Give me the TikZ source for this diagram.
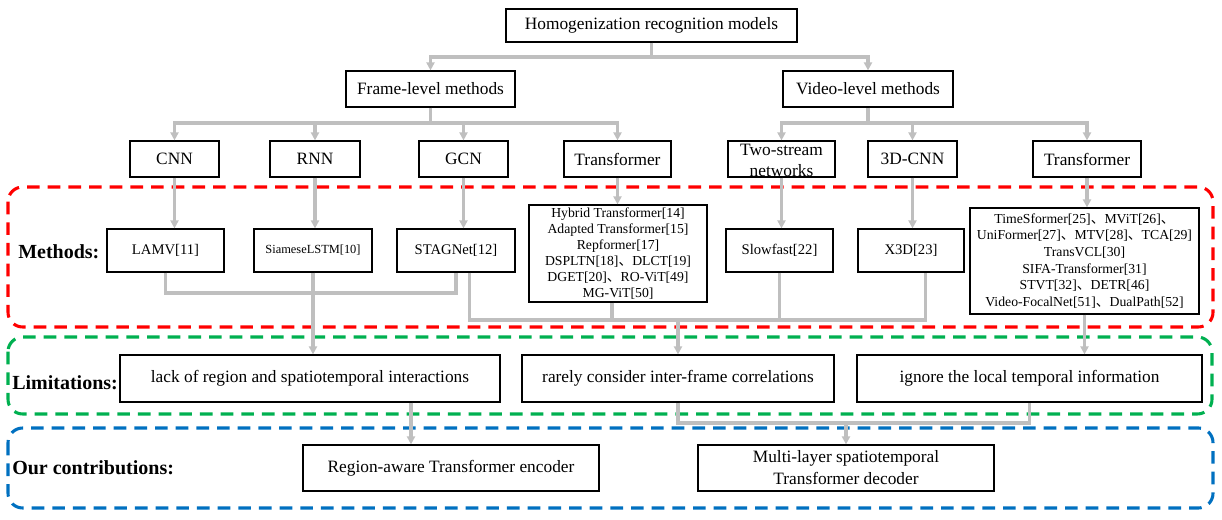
\documentclass[tikz,border=0pt]{standalone}
\usepackage{fontspec}
\setmainfont{Liberation Serif}
\newfontfamily\cjkfont{Noto Sans CJK SC}
\newcommand{\dunhao}{{\cjkfont 、}}
\usetikzlibrary{arrows.meta,calc}
\definecolor{conngray}{RGB}{191,191,191}
\definecolor{regred}{RGB}{255,0,0}
\definecolor{reggreen}{RGB}{0,176,80}
\definecolor{regblue}{RGB}{0,112,192}
\begin{document}
\begin{tikzpicture}[x=0.75pt, y=-0.75pt,
  box/.style={draw, line width=0.9pt, inner sep=0pt, align=center, fill=white},
  sz/.style 2 args={minimum width=#1, minimum height=#2},
  t13/.style={font=\fontsize{13}{15.6}\selectfont},
  t11/.style={font=\fontsize{11}{13}\selectfont},
  t9/.style={font=\fontsize{9.3}{11}\selectfont},
  tl/.style={font=\fontsize{10.3}{12.1}\selectfont},
  tr/.style={font=\fontsize{10.3}{12.5}\selectfont},
  conn/.style={draw=conngray, line width=2.4pt},
  arr/.style={conn, -{Triangle[width=6pt,length=6pt]}},
  lab/.style={anchor=west, inner sep=0pt, font=\fontsize{15}{18}\selectfont\bfseries},
  region/.style={draw=#1, line width=2.3pt, rounded corners=11pt, dash pattern=on 9.5pt off 6pt}
]
\useasboundingbox (0,0) rectangle (1222,520);

% regions
\draw[region=regred] (8,187) rectangle (1213,327);
\draw[region=reggreen] (8,337) rectangle (1212,414);
\draw[region=regblue] (8,428) rectangle (1213,508);

% labels
\node[lab] (lmeth) at (18,252) {Methods:};
\node[lab] (llim) at (12,383) {Limitations:};
\node[lab] (lcon) at (12,468) {Our contributions:};

% level 1, 2
\node[box, t13, sz={218.25pt}{24.75pt}] (top) at (651.5,25.5) {Homogenization recognition models};
\node[box, t13, sz={126.75pt}{27pt}] (frame) at (430.5,89) {Frame-level methods};
\node[box, t13, sz={127.5pt}{27pt}] (video) at (868,89) {Video-level methods};

% level 3
\node[box, t13, sz={66.75pt}{27pt}] (cnn) at (174.5,159) {CNN};
\node[box, t13, sz={67.5pt}{27pt}] (rnn) at (315,159) {RNN};
\node[box, t13, sz={66.75pt}{27pt}] (gcn) at (463.5,159) {GCN};
\node[box, t13, sz={80.25pt}{27pt}] (trf1) at (617.5,159) {Transformer};
\node[box, sz={80.25pt}{27pt}, label={[t13, align=center, inner sep=0pt, yshift=-1pt]center:Two-stream\\networks}] (two) at (781.5,159) {};
\node[box, t13, sz={66.75pt}{27pt}] (c3d) at (912.5,159) {3D-CNN};
\node[box, t13, sz={81pt}{27pt}] (trf2) at (1087,159) {Transformer};

% level 4 (methods)
\node[box, t11, sz={87.75pt}{32.25pt}] (lamv) at (165.5,250.5) {LAMV[11]};
\node[box, t9, sz={88.5pt}{32.25pt}] (siam) at (313,250.5) {SiameseLSTM[10]};
\node[box, t11, sz={88.5pt}{32.25pt}] (stag) at (456,250.5) {STAGNet[12]};
\node[box, tl, sz={133.5pt}{72.75pt}] (tlist) at (618,253.5) {Hybrid Transformer[14]\\Adapted Transformer[15]\\Repformer[17]\\DSPLTN[18]\dunhao DLCT[19]\\DGET[20]\dunhao RO-ViT[49]\\MG-ViT[50]};
\node[box, t11, sz={80.25pt}{32.25pt}] (slow) at (779.5,250.5) {Slowfast[22]};
\node[box, t11, sz={79.5pt}{32.25pt}] (x3d) at (911,250.5) {X3D[23]};
\node[box, tr, sz={171.75pt}{79.5pt}] (rlist) at (1084.5,261) {TimeSformer[25]\dunhao MViT[26]\dunhao\\UniFormer[27]\dunhao MTV[28]\dunhao TCA[29]\\TransVCL[30]\\SIFA-Transformer[31]\\STVT[32]\dunhao DETR[46]\\Video-FocalNet[51]\dunhao DualPath[52]};

% limitations
\node[box, t13, sz={285pt}{35.25pt}] (lim1) at (310,378.5) {lack of region and spatiotemporal interactions};
\node[box, t13, sz={234pt}{35.25pt}] (lim2) at (678,378.5) {rarely consider inter-frame correlations};
\node[box, t13, sz={258.75pt}{35.25pt}] (lim3) at (1029.5,378.5) {ignore the local temporal information};

% contributions
\node[box, t13, sz={222pt}{34.5pt}] (enc) at (451,468) {Region-aware Transformer encoder};
\node[box, sz={222pt}{34.5pt}, font=\fontsize{13}{16.5}\selectfont] (dec) at (846,468) {Multi-layer spatiotemporal\\Transformer decoder};

% bus coordinates
\coordinate (b1) at (0,57);
\coordinate (b2) at (0,123);
\coordinate (b3) at (0,293);
\coordinate (b4) at (0,320);
\coordinate (b5) at (0,423);
\coordinate (a1) at (411,0);

% top
\draw[arr] (top.south) -- (top.south |- b1) -| (frame.north);
\draw[arr] (top.south |- b1) -| (video.north);

% frame-level
\draw[arr] (frame.south) -- (frame.south |- b2) -| (cnn.north);
\draw[arr] (frame.south |- b2) -| (rnn.north);
\draw[arr] (frame.south |- b2) -| (gcn.north);
\draw[arr] (frame.south |- b2) -| (trf1.north);

% video-level
\draw[arr] (video.south) -- (video.south |- b2) -| (two.north);
\draw[arr] (video.south |- b2) -| (c3d.north);
\draw[arr] (video.south |- b2) -| (trf2.north);

% level 3 -> 4
\draw[arr] (cnn.south) -- (cnn.south |- lamv.north);
\draw[arr] (rnn.south) -- (rnn.south |- siam.north);
\draw[arr] (gcn.south) -- (gcn.south |- stag.north);
\draw[arr] (trf1.south) -- (trf1.south |- tlist.north);
\draw[arr] (two.south) -- (two.south |- slow.north);
\draw[arr] (c3d.south) -- (c3d.south |- x3d.north);
\draw[arr] (trf2.south) -- (trf2.south |- rlist.north);

% methods -> limitations
\draw[conn] (lamv.south) -- (lamv.south |- b3) -| (stag.south);
\draw[arr] (siam.south) -- (siam.south |- lim1.north);
\draw[conn] ([xshift=10pt]stag.south) -- ([xshift=10pt]stag.south |- b4) -- ([xshift=11pt]x3d.south |- b4) -- ([xshift=11pt]x3d.south);
\draw[conn] ([xshift=-4.5pt]tlist.south) -- ([xshift=-4.5pt]tlist.south |- b4);
\draw[conn] (slow.south) -- (slow.south |- b4);
\draw[arr] (lim2.north |- b4) -- (lim2.north);
\draw[arr] (rlist.south) -- (rlist.south |- lim3.north);

% limitations -> contributions
\draw[arr] (lim1.south -| a1) -- (enc.north -| a1);
\draw[conn] (lim2.south) |- (lim3.south |- b5) -- (lim3.south);
\draw[arr] (dec.north |- b5) -- (dec.north);
\end{tikzpicture}
\end{document}
